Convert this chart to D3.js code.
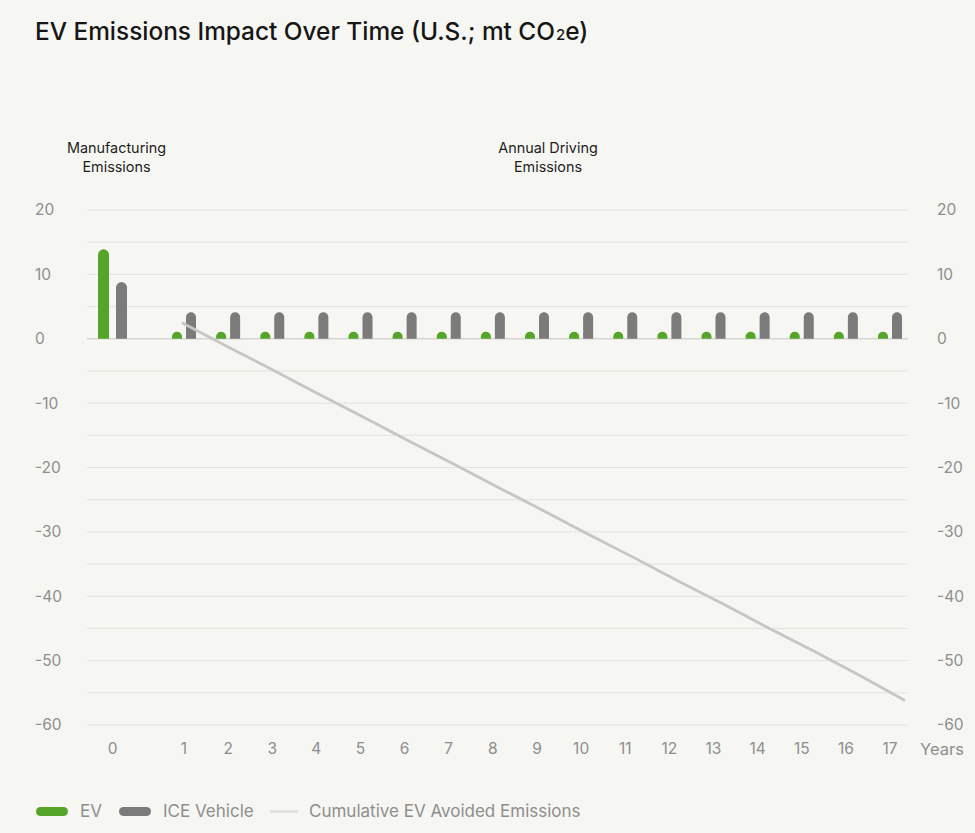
<html>
<head>
    <script src="https://cdn.jsdelivr.net/npm/d3@7"></script>
    <style>
        body { margin: 0; background: #f6f6f2; }
        text { font-family: Inter, "Noto Sans", sans-serif; }
        .tick-label { fill: #8e8e8e; font-size: 15.5px; }
        .note { fill: #1e1e1e; font-size: 14.4px; }
        .legend-label { fill: #8e8e8e; font-size: 17px; }
    </style>
</head>
<body>
    <svg width="975" height="833" id="chart"></svg>
    <script>
        // Data
        const years = [0, 1, 2, 3, 4, 5, 6, 7, 8, 9, 10, 11, 12, 13, 14, 15, 16, 17];
        const evValues = [13.9, 1.1, 1.1, 1.1, 1.1, 1.1, 1.1, 1.1, 1.1, 1.1, 1.1, 1.1, 1.1, 1.1, 1.1, 1.1, 1.1, 1.1];
        const iceValues = [8.8, 4.1, 4.1, 4.1, 4.1, 4.1, 4.1, 4.1, 4.1, 4.1, 4.1, 4.1, 4.1, 4.1, 4.1, 4.1, 4.1, 4.1];
        const lineYears = [1, 2, 3, 4, 5, 6, 7, 8, 9, 10, 11, 12, 13, 14, 15, 16, 17];
        const avoidedValues = [2.5, -1.2, -4.8, -8.5, -12.1, -15.8, -19.4, -23.1, -26.7, -30.4, -34.0, -37.7, -41.3, -45.0, -48.6, -52.3, -56.2];
        const yTicks = [20, 10, 0, -10, -20, -30, -40, -50, -60];
        const gridValues = d3.range(-60, 21, 5);
        const xTickLabels = years.map(String);

        const svg = d3.select("#chart");
        const plotLeft = 87, plotRight = 908;
        const manufacturingSlot = -0.62;   // year 0 sits apart from the annual bars

        // Scales
        const x = d3.scaleLinear().domain([1, 17]).range([184, 890]);
        const xLine = d3.scaleLinear().domain([1, 17]).range([182, 905]);
        const y = d3.scaleLinear().domain([-60, 20]).range([725, 210]);
        const slot = d => d === 0 ? manufacturingSlot : d;

        // Title (small "2" drawn as its own tspan)
        const title = svg.append("text").attr("x", 35).attr("y", 40)
            .style("font-size", "24.4px").style("fill", "#161616").style("font-weight", 500);
        title.append("tspan").text("EV Emissions Impact Over Time (U.S.; mt CO");
        title.append("tspan").style("font-size", "15px").attr("dx", 1).text("2");
        title.append("tspan").text("e)");

        // Gridlines
        svg.append("g").selectAll("line").data(gridValues).join("line")
            .attr("x1", plotLeft).attr("x2", plotRight)
            .attr("y1", d => y(d)).attr("y2", d => y(d))
            .attr("stroke", d => d === 0 ? "#d6d6d1" : "#e3e3de")
            .attr("stroke-width", d => d === 0 ? 1.5 : 1);

        // Y axis labels, both sides
        svg.append("g").selectAll("text").data(yTicks).join("text")
            .attr("class", "tick-label").attr("x", 35).attr("y", d => y(d)).attr("dy", "0.35em")
            .text(d => d);
        svg.append("g").selectAll("text").data(yTicks).join("text")
            .attr("class", "tick-label").attr("x", 937).attr("y", d => y(d)).attr("dy", "0.35em")
            .text(d => d);

        // X axis labels
        svg.append("g").selectAll("text").data(years).join("text")
            .attr("class", "tick-label").attr("text-anchor", "middle")
            .attr("x", d => x(slot(d))).attr("y", 749).attr("dy", "0.35em")
            .text((d, i) => xTickLabels[i]);
        svg.append("text").attr("class", "tick-label").attr("x", 920).attr("y", 749).attr("dy", "0.35em")
            .style("font-size", "16.5px").text("Years");

        // Section notes
        const notes = [
            { cx: x(manufacturingSlot) + 4, lines: ["Manufacturing", "Emissions"] },
            { cx: 548, lines: ["Annual Driving", "Emissions"] }
        ];
        notes.forEach(n => {
            const t = svg.append("text").attr("class", "note").attr("text-anchor", "middle");
            n.lines.forEach((l, i) => t.append("tspan").attr("x", n.cx).attr("y", 153 + i * 18.5).text(l));
        });

        // Bars with rounded tops
        const barW = 10, barGap = 4;
        function roundTop(x0, top, base, w) {
            const h = base - top;
            const r = Math.min(w / 2, h);
            return `M${x0},${base}L${x0},${top + r}A${w / 2},${r} 0 0 1 ${x0 + w},${top + r}L${x0 + w},${base}Z`;
        }
        const bars = svg.append("g");
        years.forEach((yr, i) => {
            const cx = x(slot(yr));
            const w = yr === 0 ? 11 : barW;
            const g = yr === 0 ? 7 : barGap;
            bars.append("path").attr("d", roundTop(cx - g / 2 - w, y(evValues[i]), y(0), w)).attr("fill", "#55a52b");
            bars.append("path").attr("d", roundTop(cx + g / 2, y(iceValues[i]), y(0), w)).attr("fill", "#7b7b7b");
        });

        // Cumulative avoided emissions line
        const line = d3.line().x((d, i) => xLine(lineYears[i])).y(d => y(d));
        svg.append("path").attr("d", line(avoidedValues))
            .attr("fill", "none").attr("stroke", "#c6c6c4").attr("stroke-width", 2.8);

        // Legend
        const legendItems = [
            { label: "EV", color: "#55a52b", type: "pill", x: 36 },
            { label: "ICE Vehicle", color: "#7b7b7b", type: "pill", x: 119 },
            { label: "Cumulative EV Avoided Emissions", color: "#dededb", type: "line", x: 270 }
        ];
        const legend = svg.append("g");
        legendItems.forEach(item => {
            if (item.type === "pill") {
                legend.append("rect").attr("x", item.x).attr("y", 807).attr("width", 32).attr("height", 9)
                    .attr("rx", 4.5).attr("fill", item.color);
            } else {
                legend.append("line").attr("x1", item.x).attr("x2", item.x + 28).attr("y1", 811.5).attr("y2", 811.5)
                    .attr("stroke", item.color).attr("stroke-width", 2.5);
            }
            legend.append("text").attr("class", "legend-label").attr("x", item.x + (item.type === "pill" ? 44 : 39))
                .attr("y", 811.5).attr("dy", "0.35em").text(item.label);
        });
    </script>
</body>
</html>
